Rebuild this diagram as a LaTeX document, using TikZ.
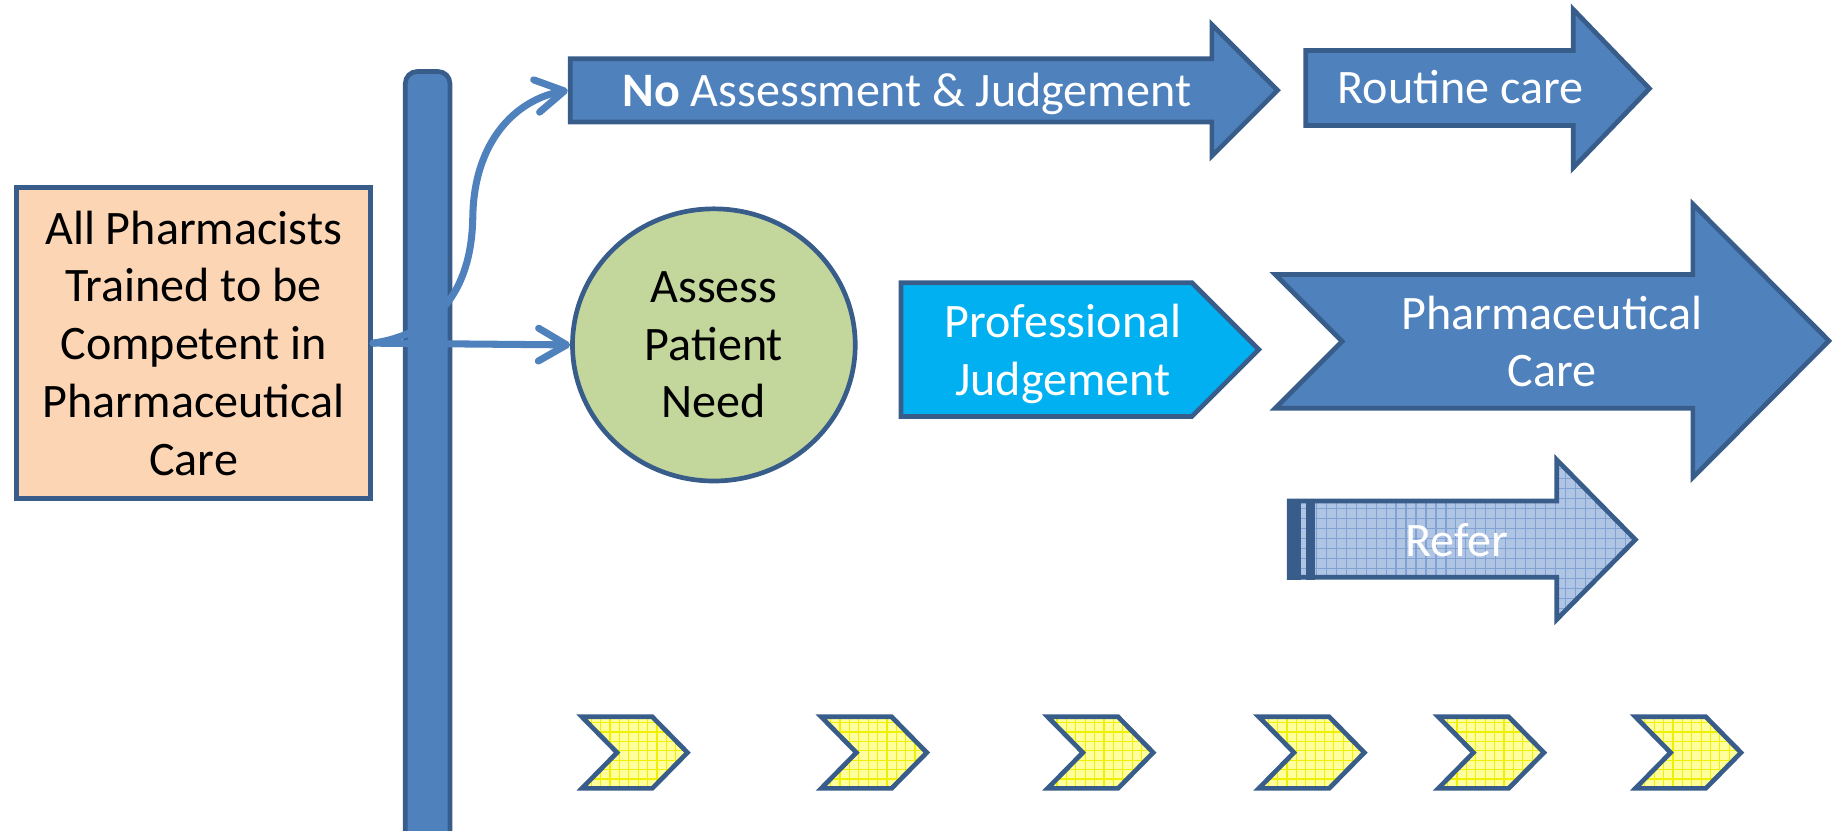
\documentclass[tikz,border=0pt]{standalone}
\usepackage{fontspec}
\setmainfont{Carlito}
\usetikzlibrary{shapes.geometric,arrows.meta}
\definecolor{bordblue}{HTML}{385D8A}
\definecolor{fillblue}{HTML}{4F81BD}
\definecolor{peach}{HTML}{FCD5B5}
\definecolor{olivef}{HTML}{C3D69B}
\definecolor{cyanf}{HTML}{00B0F0}
\definecolor{referbase}{HTML}{B0C4E4}
\definecolor{refergrid}{HTML}{7FA1D4}
\definecolor{chevbase}{HTML}{FFFF9E}
\definecolor{chevgrid}{HTML}{F0F000}
\newcommand\mychev[1]{%
  \begin{scope}[shift={(#1,0)}]
    \begin{scope}
      \clip (0,611) -- (60,611) -- (90,641.5) -- (60,672) -- (0,672) -- (30,641.5) -- cycle;
      \fill[chevbase] (-5,600) rectangle (100,680);
      \draw[chevgrid,line width=0.5pt,step=4pt] (-5,680) grid (100,600);
    \end{scope}
    \draw[bordblue,line width=2pt,line join=miter] (0,611) -- (60,611) -- (90,641.5) -- (60,672) -- (0,672) -- (30,641.5) -- cycle;
  \end{scope}}
\begin{document}
\begin{tikzpicture}[x=0.5pt,y=-0.5pt,
  font=\fontsize{20.5pt}{24.6pt}\selectfont,
  bshape/.style={draw=bordblue,line width=2pt,fill=fillblue,line join=miter},
  conn/.style={draw=fillblue,line width=3pt,line cap=round,-{Straight Barb[length=12pt,width=14pt,round]}},
  wtext/.style={text=white,align=center,inner sep=0pt},
  btext/.style={text=black,align=center,inner sep=0pt}]
\useasboundingbox (0,0) rectangle (1565,708);

% vertical bar
\draw[bshape,rounded corners=5pt] (345.5,740) -- (345.5,61) -- (383.5,61) -- (383.5,740) -- cycle;

% left box
\node[btext,draw=bordblue,line width=2pt,fill=peach,minimum width=151pt,minimum height=132.5pt] (train) at (165,292.5)
  {All Pharmacists\\Trained to be\\Competent in\\Pharmaceutical\\Care};

% circle
\node[btext,ellipse,draw=bordblue,line width=2pt,fill=olivef,minimum width=120.5pt,minimum height=116pt] (assess) at (608.5,294)
  {Assess\\Patient\\Need};

% top arrow
\draw[bshape] (486,50) -- (1033,50) -- (1033,21) -- (1089,77) -- (1033,133) -- (1033,104) -- (486,104) -- cycle;
\coordinate (noin) at (484,77);
\node[wtext,anchor=base] (noassess) at (773,91) {\textbf{No} Assessment \& Judgement};

% routine care
\draw[bshape] (1113,43) -- (1341,43) -- (1341,8) -- (1406,75.5) -- (1341,143) -- (1341,107) -- (1113,107) -- cycle;
\node[wtext,anchor=base] (routine) at (1245,88) {Routine care};

% professional judgement
\draw[bshape,fill=cyanf] (768,241) -- (1016,241) -- (1073,298) -- (1016,355) -- (768,355) -- cycle;
\node[wtext] (prof) at (906,301.5) {Professional\\Judgement};

% pharmaceutical care
\draw[bshape] (1087,234) -- (1443,234) -- (1443,174) -- (1559,290.5) -- (1443,407) -- (1443,348) -- (1087,348) -- (1144,291) -- cycle;
\node[wtext] (pcare) at (1323,291) {Pharmaceutical\\Care};

% refer
\begin{scope}
  \clip (1099,427) -- (1327,427) -- (1327,392) -- (1394,460) -- (1327,528) -- (1327,492) -- (1099,492) -- cycle;
  \fill[referbase] (1090,385) rectangle (1400,535);
  \draw[refergrid,line width=0.5pt,step=4.25pt] (1090,535) grid (1400,385);
\end{scope}
\draw[draw=bordblue,line width=2pt,line join=miter] (1099,427) -- (1327,427) -- (1327,392) -- (1394,460) -- (1327,528) -- (1327,492) -- (1099,492) -- cycle;
\fill[bordblue] (1097,425) rectangle (1109,494);
\fill[bordblue] (1113,425) rectangle (1121,494);
\node[wtext,anchor=base] (refer) at (1242,474) {Refer};

% chevrons
\mychev{496}
\mychev{700}
\mychev{893}
\mychev{1073}
\mychev{1226}
\mychev{1394}

% connectors
\draw[conn] (train.east) -- (assess.west);
\draw[conn] (train.east) .. controls (370,285) and (402,250) .. (403,185) .. controls (404,120) and (440,85) .. (noin);
\end{tikzpicture}
\end{document}
